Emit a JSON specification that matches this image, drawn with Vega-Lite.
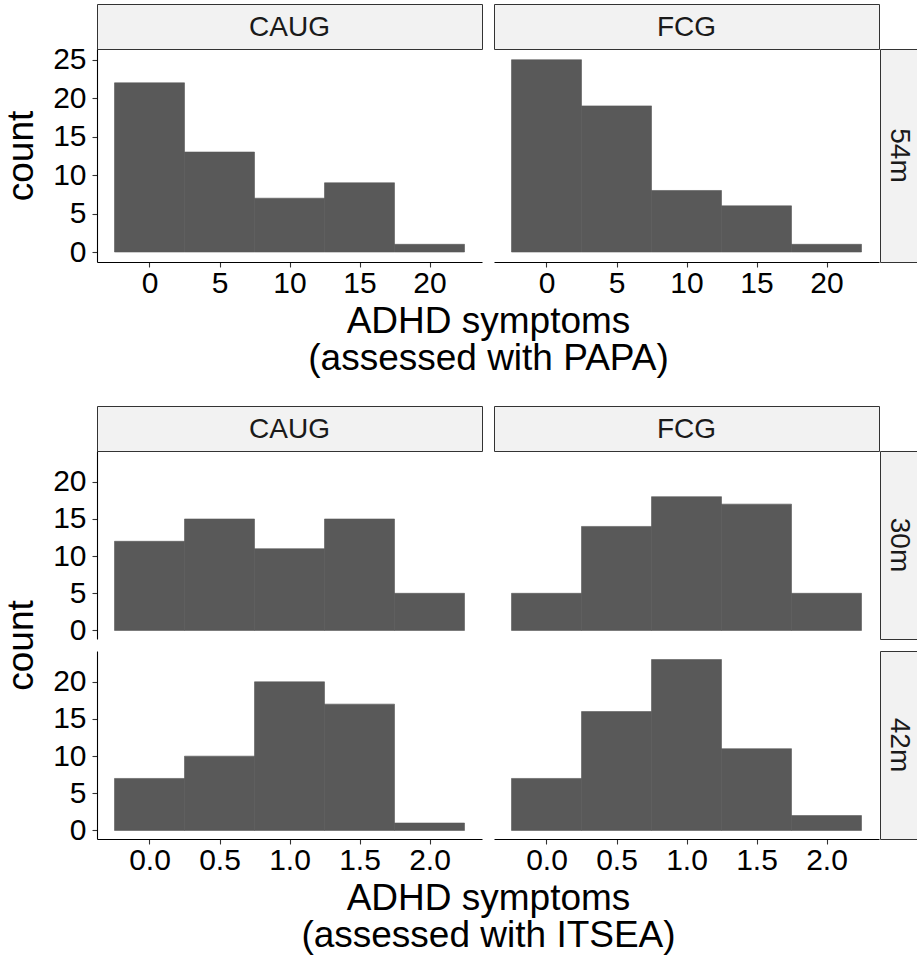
{
  "$schema": "https://vega.github.io/schema/vega-lite/v6.json",
  "padding": {"left": 2, "top": 3, "right": 0, "bottom": 5},
  "config": {
    "font": "Liberation Sans",
    "view": {"stroke": null},
    "axis": {
      "grid": false,
      "domainColor": "#000000",
      "domainWidth": 1.1,
      "tickColor": "#333333",
      "tickWidth": 1.1,
      "tickSize": 5,
      "labelFont": "Liberation Sans",
      "labelFontSize": 30,
      "labelColor": "#000000",
      "labelFlush": false,
      "labelOverlap": false,
      "titleFont": "Liberation Sans",
      "titleFontSize": 37,
      "titleFontWeight": "normal",
      "titleColor": "#000000",
      "titleLineHeight": 37
    },
    "axisX": {"labelPadding": 1, "titlePadding": 5},
    "axisY": {"labelPadding": 6, "titlePadding": 12},
    "bar": {"fill": "#595959", "stroke": "#595959", "strokeWidth": 0.6},
    "text": {"font": "Liberation Sans", "fontSize": 28, "color": "#1a1a1a"}
  },
  "datasets": {
    "papa": [
      {"group": "CAUG", "lo": -2.5, "hi": 2.5, "n": 22},
      {"group": "CAUG", "lo": 2.5, "hi": 7.5, "n": 13},
      {"group": "CAUG", "lo": 7.5, "hi": 12.5, "n": 7},
      {"group": "CAUG", "lo": 12.5, "hi": 17.5, "n": 9},
      {"group": "CAUG", "lo": 17.5, "hi": 22.5, "n": 1},
      {"group": "FCG", "lo": -2.5, "hi": 2.5, "n": 25},
      {"group": "FCG", "lo": 2.5, "hi": 7.5, "n": 19},
      {"group": "FCG", "lo": 7.5, "hi": 12.5, "n": 8},
      {"group": "FCG", "lo": 12.5, "hi": 17.5, "n": 6},
      {"group": "FCG", "lo": 17.5, "hi": 22.5, "n": 1}
    ],
    "itsea": [
      {"wave": "30m", "group": "CAUG", "lo": -0.25, "hi": 0.25, "n": 12},
      {"wave": "30m", "group": "CAUG", "lo": 0.25, "hi": 0.75, "n": 15},
      {"wave": "30m", "group": "CAUG", "lo": 0.75, "hi": 1.25, "n": 11},
      {"wave": "30m", "group": "CAUG", "lo": 1.25, "hi": 1.75, "n": 15},
      {"wave": "30m", "group": "CAUG", "lo": 1.75, "hi": 2.25, "n": 5},
      {"wave": "30m", "group": "FCG", "lo": -0.25, "hi": 0.25, "n": 5},
      {"wave": "30m", "group": "FCG", "lo": 0.25, "hi": 0.75, "n": 14},
      {"wave": "30m", "group": "FCG", "lo": 0.75, "hi": 1.25, "n": 18},
      {"wave": "30m", "group": "FCG", "lo": 1.25, "hi": 1.75, "n": 17},
      {"wave": "30m", "group": "FCG", "lo": 1.75, "hi": 2.25, "n": 5},
      {"wave": "42m", "group": "CAUG", "lo": -0.25, "hi": 0.25, "n": 7},
      {"wave": "42m", "group": "CAUG", "lo": 0.25, "hi": 0.75, "n": 10},
      {"wave": "42m", "group": "CAUG", "lo": 0.75, "hi": 1.25, "n": 20},
      {"wave": "42m", "group": "CAUG", "lo": 1.25, "hi": 1.75, "n": 17},
      {"wave": "42m", "group": "CAUG", "lo": 1.75, "hi": 2.25, "n": 1},
      {"wave": "42m", "group": "FCG", "lo": -0.25, "hi": 0.25, "n": 7},
      {"wave": "42m", "group": "FCG", "lo": 0.25, "hi": 0.75, "n": 16},
      {"wave": "42m", "group": "FCG", "lo": 0.75, "hi": 1.25, "n": 23},
      {"wave": "42m", "group": "FCG", "lo": 1.25, "hi": 1.75, "n": 11},
      {"wave": "42m", "group": "FCG", "lo": 1.75, "hi": 2.25, "n": 2}
    ],
    "blank": [{}]
  },
  "columns": 5,
  "spacing": 0,
  "bounds": "flush",
  "align": "each",
  "concat": [
    {"width": 385, "height": 45, "data": {"values": [{"label": "CAUG"}]}, "mark": {"type": "text", "dy": 1}, "encoding": {"text": {"field": "label"}}, "view": {"fill": "#f2f2f2", "stroke": "#333333", "strokeWidth": 1}},
    {"width": 12, "height": 1, "data": {"name": "blank"}, "mark": {"type": "text", "fontSize": 0}, "encoding": {}},
    {"width": 385, "height": 45, "data": {"values": [{"label": "FCG"}]}, "mark": {"type": "text", "dy": 1}, "encoding": {"text": {"field": "label"}}, "view": {"fill": "#f2f2f2", "stroke": "#333333", "strokeWidth": 1}},
    {"width": 1, "height": 1, "data": {"name": "blank"}, "mark": {"type": "text", "fontSize": 0}, "encoding": {}},
    {"width": 37, "height": 1, "data": {"name": "blank"}, "mark": {"type": "text", "fontSize": 0}, "encoding": {}},

    {
      "width": 385, "height": 213,
      "data": {"name": "papa"},
      "transform": [{"filter": "datum.group === 'CAUG'"}],
      "mark": "bar",
      "encoding": {
        "x": {"field": "lo", "type": "quantitative",
              "scale": {"domain": [-3.75, 23.75], "nice": false, "zero": false},
              "axis": {"values": [0, 5, 10, 15, 20], "title": ["ADHD symptoms", "(assessed with PAPA)"], "titleX": 391}},
        "x2": {"field": "hi"},
        "y": {"field": "n", "type": "quantitative",
              "scale": {"domain": [-1.3, 26.4], "nice": false, "zero": false},
              "axis": {"values": [0, 5, 10, 15, 20, 25], "title": "count"}},
        "y2": {"datum": 0}
      }
    },
    {"width": 1, "height": 1, "data": {"name": "blank"}, "mark": {"type": "text", "fontSize": 0}, "encoding": {}},
    {
      "width": 385, "height": 213,
      "data": {"name": "papa"},
      "transform": [{"filter": "datum.group === 'FCG'"}],
      "mark": "bar",
      "encoding": {
        "x": {"field": "lo", "type": "quantitative",
              "scale": {"domain": [-3.75, 23.75], "nice": false, "zero": false},
              "axis": {"values": [0, 5, 10, 15, 20], "title": null}},
        "x2": {"field": "hi"},
        "y": {"field": "n", "type": "quantitative",
              "scale": {"domain": [-1.3, 26.4], "nice": false, "zero": false},
              "axis": null},
        "y2": {"datum": 0}
      }
    },
    {"width": 1, "height": 1, "data": {"name": "blank"}, "mark": {"type": "text", "fontSize": 0}, "encoding": {}},
    {"width": 37, "height": 213, "data": {"values": [{"label": "54m"}]}, "mark": {"type": "text", "angle": 90}, "encoding": {"text": {"field": "label"}}, "view": {"fill": "#f2f2f2", "stroke": "#333333", "strokeWidth": 1}},

    {"width": 1, "height": 144, "data": {"name": "blank"}, "mark": {"type": "text", "fontSize": 0}, "encoding": {}},
    {"width": 1, "height": 1, "data": {"name": "blank"}, "mark": {"type": "text", "fontSize": 0}, "encoding": {}},
    {"width": 1, "height": 1, "data": {"name": "blank"}, "mark": {"type": "text", "fontSize": 0}, "encoding": {}},
    {"width": 1, "height": 1, "data": {"name": "blank"}, "mark": {"type": "text", "fontSize": 0}, "encoding": {}},
    {"width": 1, "height": 1, "data": {"name": "blank"}, "mark": {"type": "text", "fontSize": 0}, "encoding": {}},

    {"width": 385, "height": 45, "data": {"values": [{"label": "CAUG"}]}, "mark": {"type": "text", "dy": 1}, "encoding": {"text": {"field": "label"}}, "view": {"fill": "#f2f2f2", "stroke": "#333333", "strokeWidth": 1}},
    {"width": 1, "height": 1, "data": {"name": "blank"}, "mark": {"type": "text", "fontSize": 0}, "encoding": {}},
    {"width": 385, "height": 45, "data": {"values": [{"label": "FCG"}]}, "mark": {"type": "text", "dy": 1}, "encoding": {"text": {"field": "label"}}, "view": {"fill": "#f2f2f2", "stroke": "#333333", "strokeWidth": 1}},
    {"width": 1, "height": 1, "data": {"name": "blank"}, "mark": {"type": "text", "fontSize": 0}, "encoding": {}},
    {"width": 1, "height": 1, "data": {"name": "blank"}, "mark": {"type": "text", "fontSize": 0}, "encoding": {}},

    {
      "width": 385, "height": 188,
      "data": {"name": "itsea"},
      "transform": [{"filter": "datum.wave === '30m' && datum.group === 'CAUG'"}],
      "mark": "bar",
      "encoding": {
        "x": {"field": "lo", "type": "quantitative",
              "scale": {"domain": [-0.375, 2.375], "nice": false, "zero": false},
              "axis": null},
        "x2": {"field": "hi"},
        "y": {"field": "n", "type": "quantitative",
              "scale": {"domain": [-1.15, 24.15], "nice": false, "zero": false},
              "axis": {"values": [0, 5, 10, 15, 20], "title": "count", "titleY": 194}},
        "y2": {"datum": 0}
      }
    },
    {"width": 1, "height": 1, "data": {"name": "blank"}, "mark": {"type": "text", "fontSize": 0}, "encoding": {}},
    {
      "width": 385, "height": 188,
      "data": {"name": "itsea"},
      "transform": [{"filter": "datum.wave === '30m' && datum.group === 'FCG'"}],
      "mark": "bar",
      "encoding": {
        "x": {"field": "lo", "type": "quantitative",
              "scale": {"domain": [-0.375, 2.375], "nice": false, "zero": false},
              "axis": null},
        "x2": {"field": "hi"},
        "y": {"field": "n", "type": "quantitative",
              "scale": {"domain": [-1.15, 24.15], "nice": false, "zero": false},
              "axis": null},
        "y2": {"datum": 0}
      }
    },
    {"width": 1, "height": 1, "data": {"name": "blank"}, "mark": {"type": "text", "fontSize": 0}, "encoding": {}},
    {"width": 37, "height": 188, "data": {"values": [{"label": "30m"}]}, "mark": {"type": "text", "angle": 90}, "encoding": {"text": {"field": "label"}}, "view": {"fill": "#f2f2f2", "stroke": "#333333", "strokeWidth": 1}},

    {"width": 1, "height": 12, "data": {"name": "blank"}, "mark": {"type": "text", "fontSize": 0}, "encoding": {}},
    {"width": 1, "height": 1, "data": {"name": "blank"}, "mark": {"type": "text", "fontSize": 0}, "encoding": {}},
    {"width": 1, "height": 1, "data": {"name": "blank"}, "mark": {"type": "text", "fontSize": 0}, "encoding": {}},
    {"width": 1, "height": 1, "data": {"name": "blank"}, "mark": {"type": "text", "fontSize": 0}, "encoding": {}},
    {"width": 1, "height": 1, "data": {"name": "blank"}, "mark": {"type": "text", "fontSize": 0}, "encoding": {}},

    {
      "width": 385, "height": 188,
      "data": {"name": "itsea"},
      "transform": [{"filter": "datum.wave === '42m' && datum.group === 'CAUG'"}],
      "mark": "bar",
      "encoding": {
        "x": {"field": "lo", "type": "quantitative",
              "scale": {"domain": [-0.375, 2.375], "nice": false, "zero": false},
              "axis": {"values": [0, 0.5, 1, 1.5, 2], "format": ".1f", "title": ["ADHD symptoms", "(assessed with ITSEA)"], "titleX": 391}},
        "x2": {"field": "hi"},
        "y": {"field": "n", "type": "quantitative",
              "scale": {"domain": [-1.15, 24.15], "nice": false, "zero": false},
              "axis": {"values": [0, 5, 10, 15, 20], "title": null}},
        "y2": {"datum": 0}
      }
    },
    {"width": 1, "height": 1, "data": {"name": "blank"}, "mark": {"type": "text", "fontSize": 0}, "encoding": {}},
    {
      "width": 385, "height": 188,
      "data": {"name": "itsea"},
      "transform": [{"filter": "datum.wave === '42m' && datum.group === 'FCG'"}],
      "mark": "bar",
      "encoding": {
        "x": {"field": "lo", "type": "quantitative",
              "scale": {"domain": [-0.375, 2.375], "nice": false, "zero": false},
              "axis": {"values": [0, 0.5, 1, 1.5, 2], "format": ".1f", "title": null}},
        "x2": {"field": "hi"},
        "y": {"field": "n", "type": "quantitative",
              "scale": {"domain": [-1.15, 24.15], "nice": false, "zero": false},
              "axis": null},
        "y2": {"datum": 0}
      }
    },
    {"width": 1, "height": 1, "data": {"name": "blank"}, "mark": {"type": "text", "fontSize": 0}, "encoding": {}},
    {"width": 37, "height": 188, "data": {"values": [{"label": "42m"}]}, "mark": {"type": "text", "angle": 90}, "encoding": {"text": {"field": "label"}}, "view": {"fill": "#f2f2f2", "stroke": "#333333", "strokeWidth": 1}}
  ]
}
